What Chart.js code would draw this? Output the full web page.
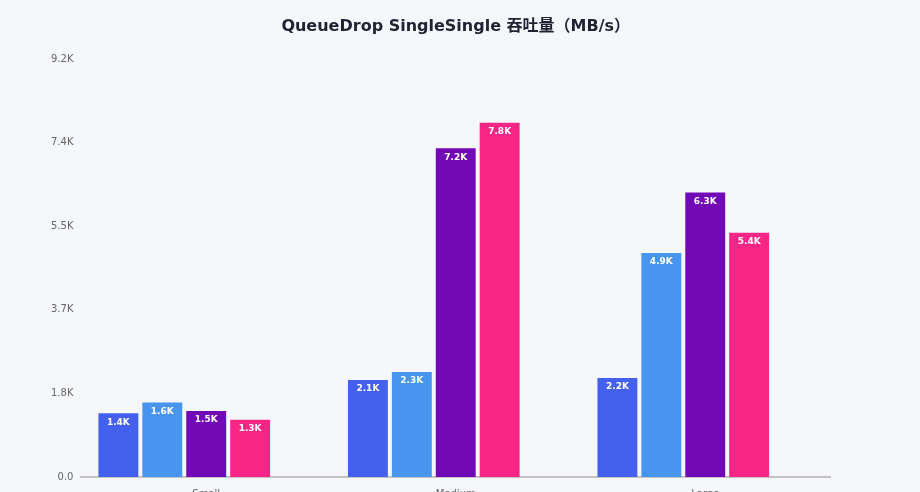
<!DOCTYPE html>
<html>
<head>
<meta charset="utf-8">
<script src="https://cdn.jsdelivr.net/npm/chart.js@4/dist/chart.umd.min.js"></script>
<style>
  html, body { margin: 0; padding: 0; background: #f5f7fa; overflow: hidden; }
  #wrap { width: 920px; height: 520px; }
</style>
</head>
<body>
<div id="wrap"><canvas id="myChart"></canvas></div>
<script>
// Data
const categories = ['Small', 'Medium', 'Large'];
const seriesNames = ['Series A', 'Series B', 'Series C', 'Series D'];
const seriesA = [1405, 2137, 2180];
const seriesB = [1638, 2312, 4932];
const seriesC = [1456, 7240, 6265];
const seriesD = [1258, 7802, 5380];
const yTicks = [0, 1840, 3680, 5520, 7360, 9200];

const COLORS = ['#4361ee', '#4895ef', '#7209b7', '#f72585'];

function fmtK(v) {
    if (v === 0) return '0.0';
    return (v / 1000).toFixed(1) + 'K';
}

// white value text inside the top of each bar
const barLabels = {
    id: 'barLabels',
    afterDatasetsDraw(chart) {
        const ctx = chart.ctx;
        ctx.save();
        ctx.fillStyle = '#ffffff';
        ctx.font = 'bold 9px "DejaVu Sans"';
        ctx.textAlign = 'center';
        ctx.textBaseline = 'middle';
        chart.data.datasets.forEach((ds, i) => {
            const meta = chart.getDatasetMeta(i);
            meta.data.forEach((bar, j) => {
                const v = ds.data[j];
                if (v == null) return;
                ctx.fillText(fmtK(v), bar.x, bar.y + 9);
            });
        });
        ctx.restore();
    }
};

const allSeries = [seriesA, seriesB, seriesC, seriesD];
const datasets = allSeries.map((s, i) => ({
    label: seriesNames[i],
    data: s,
    backgroundColor: COLORS[i],
    borderWidth: 0,
    barPercentage: 0.909,
    categoryPercentage: 0.88,
}));
// empty slot that keeps the groups left of the category centre
datasets.push({ label: '', data: [], backgroundColor: 'rgba(0,0,0,0)', barPercentage: 0.909, categoryPercentage: 0.88 });

const config = {
    type: 'bar',
    data: { labels: categories, datasets: datasets },
    options: {
        responsive: true,
        maintainAspectRatio: false,
        animation: false,
        layout: { padding: { left: 43, right: 90, top: 0, bottom: 17 } },
        plugins: {
            legend: { display: false },
            tooltip: { enabled: false },
            title: {
                display: true,
                fullSize: false,
                text: 'QueueDrop SingleSingle 吞吐量（MB/s）',
                color: '#1f2233',
                font: { family: '"DejaVu Sans", "Noto Sans CJK SC"', size: 16, weight: 'bold' },
                padding: { top: 17, bottom: 23 }
            }
        },
        scales: {
            x: {
                grid: { display: false, drawTicks: true, tickLength: 8 },
                border: { display: true, color: '#c4c4c4', width: 2 },
                ticks: { color: '#666', font: { family: '"DejaVu Sans"', size: 10 }, padding: 3 }
            },
            y: {
                min: 0,
                max: yTicks[yTicks.length - 1],
                afterBuildTicks(scale) {
                    scale.ticks = yTicks.map(v => ({ value: v }));
                },
                grid: { display: false, drawTicks: false },
                border: { display: false },
                ticks: {
                    color: '#666',
                    font: { family: '"DejaVu Sans"', size: 10 },
                    padding: 8,
                    callback: v => fmtK(v)
                }
            }
        }
    },
    plugins: [barLabels]
};

const myChart = new Chart(document.getElementById('myChart'), config);
</script>
</body>
</html>
